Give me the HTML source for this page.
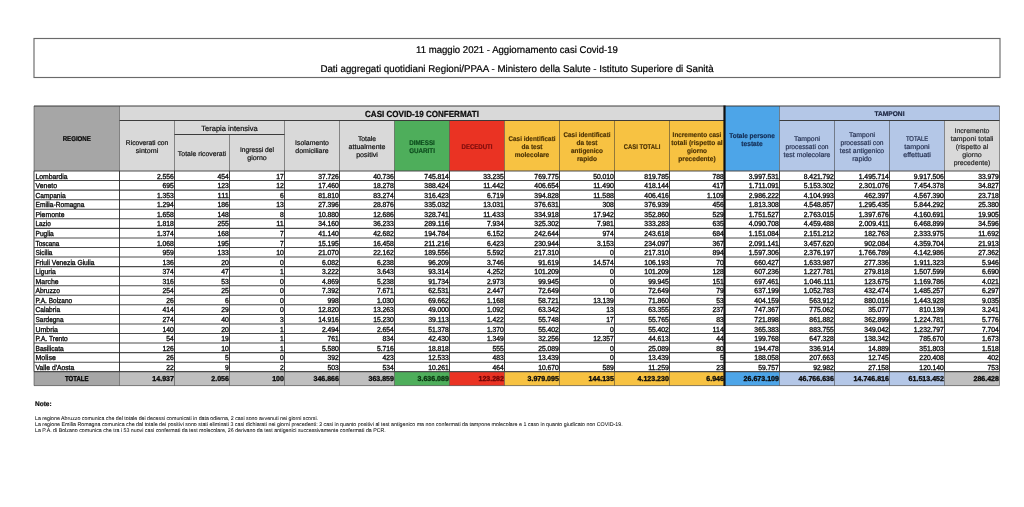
<!DOCTYPE html>
<html lang="it"><head><meta charset="utf-8"><title>11 maggio 2021 - Aggiornamento casi Covid-19</title>
<style>
html,body{margin:0;padding:0;background:#fff;}
body{width:1024px;height:507px;overflow:hidden;font-family:"Liberation Sans",sans-serif;}
svg{display:block;font-family:"Liberation Sans",sans-serif;will-change:transform;filter:blur(0.3px);}
svg text{white-space:pre;}
</style></head><body>
<svg width="1024" height="507" viewBox="0 0 1024 507" text-rendering="geometricPrecision">
<rect x="0" y="0" width="1024" height="507" fill="#ffffff"/>
<rect x="34.00" y="38.50" width="966.00" height="39.00" fill="#ffffff" stroke="#6a6a6a" stroke-width="1.15"/>
<text transform="translate(517.00 52.60) scale(0.9741 1)" font-size="9.85" text-anchor="middle" fill="#000" stroke="#000" stroke-width="0.21">11 maggio 2021 - Aggiornamento casi Covid-19</text>
<text transform="translate(517.00 71.60) scale(0.9902 1)" font-size="9.85" text-anchor="middle" fill="#000" stroke="#000" stroke-width="0.20">Dati aggregati quotidiani Regioni/PPAA - Ministero della Salute - Istituto Superiore di Sanità</text>
<rect x="34.00" y="106.00" width="85.50" height="65.00" fill="#a6a6a6" />
<rect x="119.50" y="106.00" width="605.00" height="14.50" fill="#d9d9d9" />
<rect x="119.50" y="120.50" width="275.00" height="50.50" fill="#d9d9d9" />
<rect x="394.50" y="120.50" width="55.00" height="50.50" fill="#4eae5b" />
<rect x="449.50" y="120.50" width="55.00" height="50.50" fill="#ea3323" />
<rect x="504.50" y="120.50" width="220.00" height="50.50" fill="#f7c242" />
<rect x="724.50" y="106.00" width="55.00" height="65.00" fill="#4da5e8" />
<rect x="779.50" y="106.00" width="220.00" height="14.50" fill="#b4c7e7" />
<rect x="779.50" y="120.50" width="165.00" height="50.50" fill="#b4c7e7" />
<rect x="944.50" y="120.50" width="55.00" height="50.50" fill="#d9d9d9" />
<rect x="34.00" y="371.60" width="85.50" height="14.00" fill="#a6a6a6" />
<rect x="119.50" y="371.60" width="275.00" height="14.00" fill="#bfbfbf" />
<rect x="394.50" y="371.60" width="55.00" height="14.00" fill="#4eae5b" />
<rect x="449.50" y="371.60" width="55.00" height="14.00" fill="#ea3323" />
<rect x="504.50" y="371.60" width="220.00" height="14.00" fill="#f7c242" />
<rect x="724.50" y="371.60" width="55.00" height="14.00" fill="#4da5e8" />
<rect x="779.50" y="371.60" width="165.00" height="14.00" fill="#b4c7e7" />
<rect x="944.50" y="371.60" width="55.00" height="14.00" fill="#bfbfbf" />
<line x1="34.00" y1="106.00" x2="999.50" y2="106.00" stroke="#343434" stroke-width="0.95"/>
<line x1="119.50" y1="120.50" x2="724.50" y2="120.50" stroke="#343434" stroke-width="0.95"/>
<line x1="779.50" y1="120.50" x2="999.50" y2="120.50" stroke="#343434" stroke-width="0.95"/>
<line x1="174.50" y1="134.50" x2="284.50" y2="134.50" stroke="#343434" stroke-width="0.95"/>
<line x1="34.00" y1="171.00" x2="999.50" y2="171.00" stroke="#4c4c4c" stroke-width="1.15"/>
<line x1="34.00" y1="180.56" x2="999.50" y2="180.56" stroke="#4c4c4c" stroke-width="1.05"/>
<line x1="34.00" y1="190.12" x2="999.50" y2="190.12" stroke="#4c4c4c" stroke-width="1.05"/>
<line x1="34.00" y1="199.68" x2="999.50" y2="199.68" stroke="#4c4c4c" stroke-width="1.05"/>
<line x1="34.00" y1="209.24" x2="999.50" y2="209.24" stroke="#4c4c4c" stroke-width="1.05"/>
<line x1="34.00" y1="218.80" x2="999.50" y2="218.80" stroke="#4c4c4c" stroke-width="1.05"/>
<line x1="34.00" y1="228.36" x2="999.50" y2="228.36" stroke="#4c4c4c" stroke-width="1.05"/>
<line x1="34.00" y1="237.92" x2="999.50" y2="237.92" stroke="#4c4c4c" stroke-width="1.05"/>
<line x1="34.00" y1="247.48" x2="999.50" y2="247.48" stroke="#4c4c4c" stroke-width="1.05"/>
<line x1="34.00" y1="257.04" x2="999.50" y2="257.04" stroke="#4c4c4c" stroke-width="1.05"/>
<line x1="34.00" y1="266.60" x2="999.50" y2="266.60" stroke="#4c4c4c" stroke-width="1.05"/>
<line x1="34.00" y1="276.16" x2="999.50" y2="276.16" stroke="#4c4c4c" stroke-width="1.05"/>
<line x1="34.00" y1="285.72" x2="999.50" y2="285.72" stroke="#4c4c4c" stroke-width="1.05"/>
<line x1="34.00" y1="295.28" x2="999.50" y2="295.28" stroke="#4c4c4c" stroke-width="1.05"/>
<line x1="34.00" y1="304.84" x2="999.50" y2="304.84" stroke="#4c4c4c" stroke-width="1.05"/>
<line x1="34.00" y1="314.40" x2="999.50" y2="314.40" stroke="#4c4c4c" stroke-width="1.05"/>
<line x1="34.00" y1="323.96" x2="999.50" y2="323.96" stroke="#4c4c4c" stroke-width="1.05"/>
<line x1="34.00" y1="333.52" x2="999.50" y2="333.52" stroke="#4c4c4c" stroke-width="1.05"/>
<line x1="34.00" y1="343.08" x2="999.50" y2="343.08" stroke="#4c4c4c" stroke-width="1.05"/>
<line x1="34.00" y1="352.64" x2="999.50" y2="352.64" stroke="#4c4c4c" stroke-width="1.05"/>
<line x1="34.00" y1="362.20" x2="999.50" y2="362.20" stroke="#4c4c4c" stroke-width="1.05"/>
<line x1="34.00" y1="371.60" x2="999.50" y2="371.60" stroke="#4c4c4c" stroke-width="1.05"/>
<line x1="34.00" y1="385.60" x2="999.50" y2="385.60" stroke="#343434" stroke-width="1.0" stroke-opacity="0.6"/>
<line x1="34.00" y1="106.00" x2="34.00" y2="171.00" stroke="#343434" stroke-width="0.95" stroke-opacity="0.55"/>
<line x1="34.00" y1="171.00" x2="34.00" y2="371.60" stroke="#343434" stroke-width="0.95"/>
<line x1="34.00" y1="371.60" x2="34.00" y2="385.60" stroke="#343434" stroke-width="0.95" stroke-opacity="0.55"/>
<line x1="119.50" y1="106.00" x2="119.50" y2="171.00" stroke="#343434" stroke-width="0.95" stroke-opacity="0.55"/>
<line x1="119.50" y1="171.00" x2="119.50" y2="371.60" stroke="#343434" stroke-width="0.95"/>
<line x1="119.50" y1="371.60" x2="119.50" y2="385.60" stroke="#343434" stroke-width="0.95" stroke-opacity="0.55"/>
<line x1="174.50" y1="120.50" x2="174.50" y2="171.00" stroke="#343434" stroke-width="0.95" stroke-opacity="0.55"/>
<line x1="174.50" y1="171.00" x2="174.50" y2="371.60" stroke="#343434" stroke-width="0.95"/>
<line x1="174.50" y1="371.60" x2="174.50" y2="385.60" stroke="#343434" stroke-width="0.95" stroke-opacity="0.55"/>
<line x1="229.50" y1="134.50" x2="229.50" y2="171.00" stroke="#343434" stroke-width="0.95" stroke-opacity="0.55"/>
<line x1="229.50" y1="171.00" x2="229.50" y2="371.60" stroke="#343434" stroke-width="0.95"/>
<line x1="229.50" y1="371.60" x2="229.50" y2="385.60" stroke="#343434" stroke-width="0.95" stroke-opacity="0.55"/>
<line x1="284.50" y1="120.50" x2="284.50" y2="171.00" stroke="#343434" stroke-width="0.95" stroke-opacity="0.55"/>
<line x1="284.50" y1="171.00" x2="284.50" y2="371.60" stroke="#343434" stroke-width="0.95"/>
<line x1="284.50" y1="371.60" x2="284.50" y2="385.60" stroke="#343434" stroke-width="0.95" stroke-opacity="0.55"/>
<line x1="339.50" y1="120.50" x2="339.50" y2="171.00" stroke="#343434" stroke-width="0.95" stroke-opacity="0.55"/>
<line x1="339.50" y1="171.00" x2="339.50" y2="371.60" stroke="#343434" stroke-width="0.95"/>
<line x1="339.50" y1="371.60" x2="339.50" y2="385.60" stroke="#343434" stroke-width="0.95" stroke-opacity="0.55"/>
<line x1="394.50" y1="120.50" x2="394.50" y2="171.00" stroke="#343434" stroke-width="0.95" stroke-opacity="0.55"/>
<line x1="394.50" y1="171.00" x2="394.50" y2="371.60" stroke="#343434" stroke-width="0.95"/>
<line x1="394.50" y1="371.60" x2="394.50" y2="385.60" stroke="#343434" stroke-width="0.95" stroke-opacity="0.55"/>
<line x1="449.50" y1="120.50" x2="449.50" y2="171.00" stroke="#343434" stroke-width="0.95" stroke-opacity="0.55"/>
<line x1="449.50" y1="171.00" x2="449.50" y2="371.60" stroke="#343434" stroke-width="0.95"/>
<line x1="449.50" y1="371.60" x2="449.50" y2="385.60" stroke="#343434" stroke-width="0.95" stroke-opacity="0.55"/>
<line x1="504.50" y1="120.50" x2="504.50" y2="171.00" stroke="#343434" stroke-width="0.95" stroke-opacity="0.55"/>
<line x1="504.50" y1="171.00" x2="504.50" y2="371.60" stroke="#343434" stroke-width="0.95"/>
<line x1="504.50" y1="371.60" x2="504.50" y2="385.60" stroke="#343434" stroke-width="0.95" stroke-opacity="0.55"/>
<line x1="559.50" y1="120.50" x2="559.50" y2="171.00" stroke="#343434" stroke-width="0.95" stroke-opacity="0.55"/>
<line x1="559.50" y1="171.00" x2="559.50" y2="371.60" stroke="#343434" stroke-width="0.95"/>
<line x1="559.50" y1="371.60" x2="559.50" y2="385.60" stroke="#343434" stroke-width="0.95" stroke-opacity="0.55"/>
<line x1="614.50" y1="120.50" x2="614.50" y2="171.00" stroke="#343434" stroke-width="0.95" stroke-opacity="0.55"/>
<line x1="614.50" y1="171.00" x2="614.50" y2="371.60" stroke="#343434" stroke-width="0.95"/>
<line x1="614.50" y1="371.60" x2="614.50" y2="385.60" stroke="#343434" stroke-width="0.95" stroke-opacity="0.55"/>
<line x1="669.50" y1="120.50" x2="669.50" y2="171.00" stroke="#343434" stroke-width="0.95" stroke-opacity="0.55"/>
<line x1="669.50" y1="171.00" x2="669.50" y2="371.60" stroke="#343434" stroke-width="0.95"/>
<line x1="669.50" y1="371.60" x2="669.50" y2="385.60" stroke="#343434" stroke-width="0.95" stroke-opacity="0.55"/>
<line x1="779.50" y1="106.00" x2="779.50" y2="171.00" stroke="#343434" stroke-width="0.95" stroke-opacity="0.55"/>
<line x1="779.50" y1="171.00" x2="779.50" y2="371.60" stroke="#343434" stroke-width="0.95"/>
<line x1="779.50" y1="371.60" x2="779.50" y2="385.60" stroke="#343434" stroke-width="0.95" stroke-opacity="0.55"/>
<line x1="834.50" y1="120.50" x2="834.50" y2="171.00" stroke="#343434" stroke-width="0.95" stroke-opacity="0.55"/>
<line x1="834.50" y1="171.00" x2="834.50" y2="371.60" stroke="#343434" stroke-width="0.95"/>
<line x1="834.50" y1="371.60" x2="834.50" y2="385.60" stroke="#343434" stroke-width="0.95" stroke-opacity="0.55"/>
<line x1="889.50" y1="120.50" x2="889.50" y2="171.00" stroke="#343434" stroke-width="0.95" stroke-opacity="0.55"/>
<line x1="889.50" y1="171.00" x2="889.50" y2="371.60" stroke="#343434" stroke-width="0.95"/>
<line x1="889.50" y1="371.60" x2="889.50" y2="385.60" stroke="#343434" stroke-width="0.95" stroke-opacity="0.55"/>
<line x1="944.50" y1="120.50" x2="944.50" y2="171.00" stroke="#343434" stroke-width="0.95" stroke-opacity="0.55"/>
<line x1="944.50" y1="171.00" x2="944.50" y2="371.60" stroke="#343434" stroke-width="0.95"/>
<line x1="944.50" y1="371.60" x2="944.50" y2="385.60" stroke="#343434" stroke-width="0.95" stroke-opacity="0.55"/>
<line x1="999.50" y1="106.00" x2="999.50" y2="171.00" stroke="#343434" stroke-width="0.95" stroke-opacity="0.55"/>
<line x1="999.50" y1="171.00" x2="999.50" y2="371.60" stroke="#343434" stroke-width="0.95"/>
<line x1="999.50" y1="371.60" x2="999.50" y2="385.60" stroke="#343434" stroke-width="0.95" stroke-opacity="0.55"/>
<line x1="724.50" y1="105.50" x2="724.50" y2="386.10" stroke="#111" stroke-width="2.2"/>
<text transform="translate(76.75 141.15) scale(0.8820 1)" font-size="6.94" text-anchor="middle" font-weight="bold" fill="#0a0a0a" stroke="#0a0a0a" stroke-width="0.23">REGIONE</text>
<text transform="translate(422.00 117.15) scale(0.9073 1)" font-size="8.88" text-anchor="middle" font-weight="bold" fill="#0a0a0a" stroke="#0a0a0a" stroke-width="0.22">CASI COVID-19 CONFERMATI</text>
<text transform="translate(889.50 115.75) scale(0.9604 1)" font-size="6.89" text-anchor="middle" font-weight="bold" fill="#1b2540" stroke="#1b2540" stroke-width="0.21">TAMPONI</text>
<text transform="translate(229.50 130.70) scale(0.9785 1)" font-size="7.68" text-anchor="middle" fill="#0a0a0a" stroke="#0a0a0a" stroke-width="0.18">Terapia intensiva</text>
<text transform="translate(147.00 144.99) scale(0.9722 1)" font-size="6.89" text-anchor="middle" fill="#0a0a0a" stroke="#0a0a0a" stroke-width="0.19">Ricoverati con</text>
<text transform="translate(147.00 152.94) scale(1.0299 1)" font-size="6.89" text-anchor="middle" fill="#0a0a0a" stroke="#0a0a0a" stroke-width="0.18">sintomi</text>
<text transform="translate(202.00 155.96) scale(1.0020 1)" font-size="6.89" text-anchor="middle" fill="#0a0a0a" stroke="#0a0a0a" stroke-width="0.18">Totale ricoverati</text>
<text transform="translate(257.00 151.99) scale(0.9664 1)" font-size="6.89" text-anchor="middle" fill="#0a0a0a" stroke="#0a0a0a" stroke-width="0.19">Ingressi del</text>
<text transform="translate(257.00 159.94) scale(1.0224 1)" font-size="6.89" text-anchor="middle" fill="#0a0a0a" stroke="#0a0a0a" stroke-width="0.18">giorno</text>
<text transform="translate(312.00 144.99) scale(1.0042 1)" font-size="6.89" text-anchor="middle" fill="#0a0a0a" stroke="#0a0a0a" stroke-width="0.18">Isolamento</text>
<text transform="translate(312.00 152.94) scale(1.0189 1)" font-size="6.89" text-anchor="middle" fill="#0a0a0a" stroke="#0a0a0a" stroke-width="0.18">domiciliare</text>
<text transform="translate(367.00 141.01) scale(0.9945 1)" font-size="6.89" text-anchor="middle" fill="#0a0a0a" stroke="#0a0a0a" stroke-width="0.18">Totale</text>
<text transform="translate(367.00 148.96) scale(1.0287 1)" font-size="6.89" text-anchor="middle" fill="#0a0a0a" stroke="#0a0a0a" stroke-width="0.18">attualmente</text>
<text transform="translate(367.00 156.91) scale(1.0298 1)" font-size="6.89" text-anchor="middle" fill="#0a0a0a" stroke="#0a0a0a" stroke-width="0.18">positivi</text>
<text transform="translate(422.00 144.99) scale(0.9100 1)" font-size="6.89" text-anchor="middle" font-weight="bold" fill="#0c4a1c" stroke="#0c4a1c" stroke-width="0.15">DIMESSI</text>
<text transform="translate(422.00 152.94) scale(0.9100 1)" font-size="6.89" text-anchor="middle" font-weight="bold" fill="#0c4a1c" stroke="#0c4a1c" stroke-width="0.15">GUARITI</text>
<text transform="translate(477.00 148.96) scale(0.8810 1)" font-size="6.89" text-anchor="middle" font-weight="bold" fill="#7a0c0c" stroke="#7a0c0c" stroke-width="0.16">DECEDUTI</text>
<text transform="translate(532.00 141.01) scale(0.9257 1)" font-size="6.89" text-anchor="middle" font-weight="bold" fill="#4a3104" stroke="#4a3104" stroke-width="0.15">Casi identificati</text>
<text transform="translate(532.00 148.96) scale(0.9488 1)" font-size="6.89" text-anchor="middle" font-weight="bold" fill="#4a3104" stroke="#4a3104" stroke-width="0.15">da test</text>
<text transform="translate(532.00 156.91) scale(0.9496 1)" font-size="6.89" text-anchor="middle" font-weight="bold" fill="#4a3104" stroke="#4a3104" stroke-width="0.15">molecolare</text>
<text transform="translate(587.00 137.04) scale(0.9257 1)" font-size="6.89" text-anchor="middle" font-weight="bold" fill="#4a3104" stroke="#4a3104" stroke-width="0.15">Casi identificati</text>
<text transform="translate(587.00 144.99) scale(0.9488 1)" font-size="6.89" text-anchor="middle" font-weight="bold" fill="#4a3104" stroke="#4a3104" stroke-width="0.15">da test</text>
<text transform="translate(587.00 152.94) scale(0.9311 1)" font-size="6.89" text-anchor="middle" font-weight="bold" fill="#4a3104" stroke="#4a3104" stroke-width="0.15">antigenico</text>
<text transform="translate(587.00 160.89) scale(0.9495 1)" font-size="6.89" text-anchor="middle" font-weight="bold" fill="#4a3104" stroke="#4a3104" stroke-width="0.15">rapido</text>
<text transform="translate(642.00 148.96) scale(0.8626 1)" font-size="6.89" text-anchor="middle" font-weight="bold" fill="#4a3104" stroke="#4a3104" stroke-width="0.16">CASI TOTALI</text>
<text transform="translate(697.00 137.04) scale(0.9321 1)" font-size="6.89" text-anchor="middle" font-weight="bold" fill="#4a3104" stroke="#4a3104" stroke-width="0.15">Incremento casi</text>
<text transform="translate(697.00 144.99) scale(0.9613 1)" font-size="6.89" text-anchor="middle" font-weight="bold" fill="#4a3104" stroke="#4a3104" stroke-width="0.15">totali (rispetto al</text>
<text transform="translate(697.00 152.94) scale(0.9339 1)" font-size="6.89" text-anchor="middle" font-weight="bold" fill="#4a3104" stroke="#4a3104" stroke-width="0.15">giorno</text>
<text transform="translate(697.00 160.89) scale(0.9580 1)" font-size="6.89" text-anchor="middle" font-weight="bold" fill="#4a3104" stroke="#4a3104" stroke-width="0.15">precedente)</text>
<text transform="translate(752.00 137.74) scale(0.9387 1)" font-size="6.89" text-anchor="middle" font-weight="bold" fill="#12294f" stroke="#12294f" stroke-width="0.15">Totale persone</text>
<text transform="translate(752.00 145.69) scale(0.9674 1)" font-size="6.89" text-anchor="middle" font-weight="bold" fill="#12294f" stroke="#12294f" stroke-width="0.14">testate</text>
<text transform="translate(807.00 141.01) scale(0.9995 1)" font-size="6.89" text-anchor="middle" fill="#1f2a4a" stroke="#1f2a4a" stroke-width="0.18">Tamponi</text>
<text transform="translate(807.00 148.96) scale(0.9738 1)" font-size="6.89" text-anchor="middle" fill="#1f2a4a" stroke="#1f2a4a" stroke-width="0.18">processati con</text>
<text transform="translate(807.00 156.91) scale(1.0043 1)" font-size="6.89" text-anchor="middle" fill="#1f2a4a" stroke="#1f2a4a" stroke-width="0.18">test molecolare</text>
<text transform="translate(862.00 137.04) scale(0.9995 1)" font-size="6.89" text-anchor="middle" fill="#1f2a4a" stroke="#1f2a4a" stroke-width="0.18">Tamponi</text>
<text transform="translate(862.00 144.99) scale(0.9738 1)" font-size="6.89" text-anchor="middle" fill="#1f2a4a" stroke="#1f2a4a" stroke-width="0.18">processati con</text>
<text transform="translate(862.00 152.94) scale(1.0011 1)" font-size="6.89" text-anchor="middle" fill="#1f2a4a" stroke="#1f2a4a" stroke-width="0.18">test antigenico</text>
<text transform="translate(862.00 160.89) scale(1.0169 1)" font-size="6.89" text-anchor="middle" fill="#1f2a4a" stroke="#1f2a4a" stroke-width="0.18">rapido</text>
<text transform="translate(917.00 141.01) scale(0.8514 1)" font-size="6.89" text-anchor="middle" fill="#1f2a4a" stroke="#1f2a4a" stroke-width="0.21">TOTALE</text>
<text transform="translate(917.00 148.96) scale(1.0357 1)" font-size="6.89" text-anchor="middle" fill="#1f2a4a" stroke="#1f2a4a" stroke-width="0.18">tamponi</text>
<text transform="translate(917.00 156.91) scale(1.0551 1)" font-size="6.89" text-anchor="middle" fill="#1f2a4a" stroke="#1f2a4a" stroke-width="0.18">effettuati</text>
<text transform="translate(972.00 133.06) scale(1.0153 1)" font-size="6.89" text-anchor="middle" fill="#222" stroke="#222" stroke-width="0.18">Incremento</text>
<text transform="translate(972.00 141.01) scale(1.0447 1)" font-size="6.89" text-anchor="middle" fill="#222" stroke="#222" stroke-width="0.18">tamponi totali</text>
<text transform="translate(972.00 148.96) scale(1.0135 1)" font-size="6.89" text-anchor="middle" fill="#222" stroke="#222" stroke-width="0.18">(rispetto al</text>
<text transform="translate(972.00 156.91) scale(1.0224 1)" font-size="6.89" text-anchor="middle" fill="#222" stroke="#222" stroke-width="0.18">giorno</text>
<text transform="translate(972.00 164.86) scale(1.0013 1)" font-size="6.89" text-anchor="middle" fill="#222" stroke="#222" stroke-width="0.18">precedente)</text>
<text transform="translate(35.50 178.60) scale(0.9425 1)" font-size="7.23" text-anchor="start" fill="#0a0a0a" stroke="#0a0a0a" stroke-width="0.32">Lombardia</text>
<text transform="translate(173.90 178.60) scale(0.9297 1)" font-size="7.30" text-anchor="end" fill="#0a0a0a" stroke="#0a0a0a" stroke-width="0.32">2.556</text>
<text transform="translate(228.90 178.60) scale(0.9300 1)" font-size="7.30" text-anchor="end" fill="#0a0a0a" stroke="#0a0a0a" stroke-width="0.32">454</text>
<text transform="translate(283.90 178.60) scale(0.9300 1)" font-size="7.30" text-anchor="end" fill="#0a0a0a" stroke="#0a0a0a" stroke-width="0.32">17</text>
<text transform="translate(338.90 178.60) scale(0.9297 1)" font-size="7.30" text-anchor="end" fill="#0a0a0a" stroke="#0a0a0a" stroke-width="0.32">37.726</text>
<text transform="translate(393.90 178.60) scale(0.9297 1)" font-size="7.30" text-anchor="end" fill="#0a0a0a" stroke="#0a0a0a" stroke-width="0.32">40.736</text>
<text transform="translate(448.90 178.60) scale(0.9297 1)" font-size="7.30" text-anchor="end" fill="#0a0a0a" stroke="#0a0a0a" stroke-width="0.32">745.814</text>
<text transform="translate(503.90 178.60) scale(0.9297 1)" font-size="7.30" text-anchor="end" fill="#0a0a0a" stroke="#0a0a0a" stroke-width="0.32">33.235</text>
<text transform="translate(558.90 178.60) scale(0.9297 1)" font-size="7.30" text-anchor="end" fill="#0a0a0a" stroke="#0a0a0a" stroke-width="0.32">769.775</text>
<text transform="translate(613.90 178.60) scale(0.9297 1)" font-size="7.30" text-anchor="end" fill="#0a0a0a" stroke="#0a0a0a" stroke-width="0.32">50.010</text>
<text transform="translate(668.90 178.60) scale(0.9297 1)" font-size="7.30" text-anchor="end" fill="#0a0a0a" stroke="#0a0a0a" stroke-width="0.32">819.785</text>
<text transform="translate(723.90 178.60) scale(0.9300 1)" font-size="7.30" text-anchor="end" fill="#0a0a0a" stroke="#0a0a0a" stroke-width="0.32">788</text>
<text transform="translate(778.90 178.60) scale(0.9296 1)" font-size="7.30" text-anchor="end" fill="#0a0a0a" stroke="#0a0a0a" stroke-width="0.32">3.997.531</text>
<text transform="translate(833.90 178.60) scale(0.9296 1)" font-size="7.30" text-anchor="end" fill="#0a0a0a" stroke="#0a0a0a" stroke-width="0.32">8.421.792</text>
<text transform="translate(888.90 178.60) scale(0.9296 1)" font-size="7.30" text-anchor="end" fill="#0a0a0a" stroke="#0a0a0a" stroke-width="0.32">1.495.714</text>
<text transform="translate(943.90 178.60) scale(0.9296 1)" font-size="7.30" text-anchor="end" fill="#0a0a0a" stroke="#0a0a0a" stroke-width="0.32">9.917.506</text>
<text transform="translate(998.90 178.60) scale(0.9297 1)" font-size="7.30" text-anchor="end" fill="#0a0a0a" stroke="#0a0a0a" stroke-width="0.32">33.979</text>
<text transform="translate(35.50 188.16) scale(0.9551 1)" font-size="7.23" text-anchor="start" fill="#0a0a0a" stroke="#0a0a0a" stroke-width="0.31">Veneto</text>
<text transform="translate(173.90 188.16) scale(0.9300 1)" font-size="7.30" text-anchor="end" fill="#0a0a0a" stroke="#0a0a0a" stroke-width="0.32">695</text>
<text transform="translate(228.90 188.16) scale(0.9300 1)" font-size="7.30" text-anchor="end" fill="#0a0a0a" stroke="#0a0a0a" stroke-width="0.32">123</text>
<text transform="translate(283.90 188.16) scale(0.9300 1)" font-size="7.30" text-anchor="end" fill="#0a0a0a" stroke="#0a0a0a" stroke-width="0.32">12</text>
<text transform="translate(338.90 188.16) scale(0.9297 1)" font-size="7.30" text-anchor="end" fill="#0a0a0a" stroke="#0a0a0a" stroke-width="0.32">17.460</text>
<text transform="translate(393.90 188.16) scale(0.9297 1)" font-size="7.30" text-anchor="end" fill="#0a0a0a" stroke="#0a0a0a" stroke-width="0.32">18.278</text>
<text transform="translate(448.90 188.16) scale(0.9297 1)" font-size="7.30" text-anchor="end" fill="#0a0a0a" stroke="#0a0a0a" stroke-width="0.32">388.424</text>
<text transform="translate(503.90 188.16) scale(0.9528 1)" font-size="7.30" text-anchor="end" fill="#0a0a0a" stroke="#0a0a0a" stroke-width="0.31">11.442</text>
<text transform="translate(558.90 188.16) scale(0.9297 1)" font-size="7.30" text-anchor="end" fill="#0a0a0a" stroke="#0a0a0a" stroke-width="0.32">406.654</text>
<text transform="translate(613.90 188.16) scale(0.9528 1)" font-size="7.30" text-anchor="end" fill="#0a0a0a" stroke="#0a0a0a" stroke-width="0.31">11.490</text>
<text transform="translate(668.90 188.16) scale(0.9297 1)" font-size="7.30" text-anchor="end" fill="#0a0a0a" stroke="#0a0a0a" stroke-width="0.32">418.144</text>
<text transform="translate(723.90 188.16) scale(0.9300 1)" font-size="7.30" text-anchor="end" fill="#0a0a0a" stroke="#0a0a0a" stroke-width="0.32">417</text>
<text transform="translate(778.90 188.16) scale(0.9454 1)" font-size="7.30" text-anchor="end" fill="#0a0a0a" stroke="#0a0a0a" stroke-width="0.32">1.711.091</text>
<text transform="translate(833.90 188.16) scale(0.9296 1)" font-size="7.30" text-anchor="end" fill="#0a0a0a" stroke="#0a0a0a" stroke-width="0.32">5.153.302</text>
<text transform="translate(888.90 188.16) scale(0.9296 1)" font-size="7.30" text-anchor="end" fill="#0a0a0a" stroke="#0a0a0a" stroke-width="0.32">2.301.076</text>
<text transform="translate(943.90 188.16) scale(0.9296 1)" font-size="7.30" text-anchor="end" fill="#0a0a0a" stroke="#0a0a0a" stroke-width="0.32">7.454.378</text>
<text transform="translate(998.90 188.16) scale(0.9297 1)" font-size="7.30" text-anchor="end" fill="#0a0a0a" stroke="#0a0a0a" stroke-width="0.32">34.827</text>
<text transform="translate(35.50 197.72) scale(0.9158 1)" font-size="7.23" text-anchor="start" fill="#0a0a0a" stroke="#0a0a0a" stroke-width="0.33">Campania</text>
<text transform="translate(173.90 197.72) scale(0.9297 1)" font-size="7.30" text-anchor="end" fill="#0a0a0a" stroke="#0a0a0a" stroke-width="0.32">1.353</text>
<text transform="translate(228.90 197.72) scale(1.0208 1)" font-size="7.30" text-anchor="end" fill="#0a0a0a" stroke="#0a0a0a" stroke-width="0.30">111</text>
<text transform="translate(283.90 197.72) scale(0.9300 1)" font-size="7.30" text-anchor="end" fill="#0a0a0a" stroke="#0a0a0a" stroke-width="0.32">6</text>
<text transform="translate(338.90 197.72) scale(0.9297 1)" font-size="7.30" text-anchor="end" fill="#0a0a0a" stroke="#0a0a0a" stroke-width="0.32">81.810</text>
<text transform="translate(393.90 197.72) scale(0.9297 1)" font-size="7.30" text-anchor="end" fill="#0a0a0a" stroke="#0a0a0a" stroke-width="0.32">83.274</text>
<text transform="translate(448.90 197.72) scale(0.9297 1)" font-size="7.30" text-anchor="end" fill="#0a0a0a" stroke="#0a0a0a" stroke-width="0.32">316.423</text>
<text transform="translate(503.90 197.72) scale(0.9297 1)" font-size="7.30" text-anchor="end" fill="#0a0a0a" stroke="#0a0a0a" stroke-width="0.32">6.719</text>
<text transform="translate(558.90 197.72) scale(0.9297 1)" font-size="7.30" text-anchor="end" fill="#0a0a0a" stroke="#0a0a0a" stroke-width="0.32">394.828</text>
<text transform="translate(613.90 197.72) scale(0.9528 1)" font-size="7.30" text-anchor="end" fill="#0a0a0a" stroke="#0a0a0a" stroke-width="0.31">11.588</text>
<text transform="translate(668.90 197.72) scale(0.9297 1)" font-size="7.30" text-anchor="end" fill="#0a0a0a" stroke="#0a0a0a" stroke-width="0.32">406.416</text>
<text transform="translate(723.90 197.72) scale(0.9297 1)" font-size="7.30" text-anchor="end" fill="#0a0a0a" stroke="#0a0a0a" stroke-width="0.32">1.109</text>
<text transform="translate(778.90 197.72) scale(0.9296 1)" font-size="7.30" text-anchor="end" fill="#0a0a0a" stroke="#0a0a0a" stroke-width="0.32">2.986.222</text>
<text transform="translate(833.90 197.72) scale(0.9296 1)" font-size="7.30" text-anchor="end" fill="#0a0a0a" stroke="#0a0a0a" stroke-width="0.32">4.104.993</text>
<text transform="translate(888.90 197.72) scale(0.9297 1)" font-size="7.30" text-anchor="end" fill="#0a0a0a" stroke="#0a0a0a" stroke-width="0.32">462.397</text>
<text transform="translate(943.90 197.72) scale(0.9296 1)" font-size="7.30" text-anchor="end" fill="#0a0a0a" stroke="#0a0a0a" stroke-width="0.32">4.567.390</text>
<text transform="translate(998.90 197.72) scale(0.9297 1)" font-size="7.30" text-anchor="end" fill="#0a0a0a" stroke="#0a0a0a" stroke-width="0.32">23.718</text>
<text transform="translate(35.50 207.28) scale(0.9154 1)" font-size="7.23" text-anchor="start" fill="#0a0a0a" stroke="#0a0a0a" stroke-width="0.33">Emilia-Romagna</text>
<text transform="translate(173.90 207.28) scale(0.9297 1)" font-size="7.30" text-anchor="end" fill="#0a0a0a" stroke="#0a0a0a" stroke-width="0.32">1.294</text>
<text transform="translate(228.90 207.28) scale(0.9300 1)" font-size="7.30" text-anchor="end" fill="#0a0a0a" stroke="#0a0a0a" stroke-width="0.32">186</text>
<text transform="translate(283.90 207.28) scale(0.9300 1)" font-size="7.30" text-anchor="end" fill="#0a0a0a" stroke="#0a0a0a" stroke-width="0.32">13</text>
<text transform="translate(338.90 207.28) scale(0.9297 1)" font-size="7.30" text-anchor="end" fill="#0a0a0a" stroke="#0a0a0a" stroke-width="0.32">27.396</text>
<text transform="translate(393.90 207.28) scale(0.9297 1)" font-size="7.30" text-anchor="end" fill="#0a0a0a" stroke="#0a0a0a" stroke-width="0.32">28.876</text>
<text transform="translate(448.90 207.28) scale(0.9297 1)" font-size="7.30" text-anchor="end" fill="#0a0a0a" stroke="#0a0a0a" stroke-width="0.32">335.032</text>
<text transform="translate(503.90 207.28) scale(0.9297 1)" font-size="7.30" text-anchor="end" fill="#0a0a0a" stroke="#0a0a0a" stroke-width="0.32">13.031</text>
<text transform="translate(558.90 207.28) scale(0.9297 1)" font-size="7.30" text-anchor="end" fill="#0a0a0a" stroke="#0a0a0a" stroke-width="0.32">376.631</text>
<text transform="translate(613.90 207.28) scale(0.9300 1)" font-size="7.30" text-anchor="end" fill="#0a0a0a" stroke="#0a0a0a" stroke-width="0.32">308</text>
<text transform="translate(668.90 207.28) scale(0.9297 1)" font-size="7.30" text-anchor="end" fill="#0a0a0a" stroke="#0a0a0a" stroke-width="0.32">376.939</text>
<text transform="translate(723.90 207.28) scale(0.9300 1)" font-size="7.30" text-anchor="end" fill="#0a0a0a" stroke="#0a0a0a" stroke-width="0.32">456</text>
<text transform="translate(778.90 207.28) scale(0.9296 1)" font-size="7.30" text-anchor="end" fill="#0a0a0a" stroke="#0a0a0a" stroke-width="0.32">1.813.308</text>
<text transform="translate(833.90 207.28) scale(0.9296 1)" font-size="7.30" text-anchor="end" fill="#0a0a0a" stroke="#0a0a0a" stroke-width="0.32">4.548.857</text>
<text transform="translate(888.90 207.28) scale(0.9296 1)" font-size="7.30" text-anchor="end" fill="#0a0a0a" stroke="#0a0a0a" stroke-width="0.32">1.295.435</text>
<text transform="translate(943.90 207.28) scale(0.9296 1)" font-size="7.30" text-anchor="end" fill="#0a0a0a" stroke="#0a0a0a" stroke-width="0.32">5.844.292</text>
<text transform="translate(998.90 207.28) scale(0.9297 1)" font-size="7.30" text-anchor="end" fill="#0a0a0a" stroke="#0a0a0a" stroke-width="0.32">25.380</text>
<text transform="translate(35.50 216.84) scale(0.9536 1)" font-size="7.23" text-anchor="start" fill="#0a0a0a" stroke="#0a0a0a" stroke-width="0.31">Piemonte</text>
<text transform="translate(173.90 216.84) scale(0.9297 1)" font-size="7.30" text-anchor="end" fill="#0a0a0a" stroke="#0a0a0a" stroke-width="0.32">1.658</text>
<text transform="translate(228.90 216.84) scale(0.9300 1)" font-size="7.30" text-anchor="end" fill="#0a0a0a" stroke="#0a0a0a" stroke-width="0.32">148</text>
<text transform="translate(283.90 216.84) scale(0.9300 1)" font-size="7.30" text-anchor="end" fill="#0a0a0a" stroke="#0a0a0a" stroke-width="0.32">8</text>
<text transform="translate(338.90 216.84) scale(0.9297 1)" font-size="7.30" text-anchor="end" fill="#0a0a0a" stroke="#0a0a0a" stroke-width="0.32">10.880</text>
<text transform="translate(393.90 216.84) scale(0.9297 1)" font-size="7.30" text-anchor="end" fill="#0a0a0a" stroke="#0a0a0a" stroke-width="0.32">12.686</text>
<text transform="translate(448.90 216.84) scale(0.9297 1)" font-size="7.30" text-anchor="end" fill="#0a0a0a" stroke="#0a0a0a" stroke-width="0.32">328.741</text>
<text transform="translate(503.90 216.84) scale(0.9528 1)" font-size="7.30" text-anchor="end" fill="#0a0a0a" stroke="#0a0a0a" stroke-width="0.31">11.433</text>
<text transform="translate(558.90 216.84) scale(0.9297 1)" font-size="7.30" text-anchor="end" fill="#0a0a0a" stroke="#0a0a0a" stroke-width="0.32">334.918</text>
<text transform="translate(613.90 216.84) scale(0.9297 1)" font-size="7.30" text-anchor="end" fill="#0a0a0a" stroke="#0a0a0a" stroke-width="0.32">17.942</text>
<text transform="translate(668.90 216.84) scale(0.9297 1)" font-size="7.30" text-anchor="end" fill="#0a0a0a" stroke="#0a0a0a" stroke-width="0.32">352.860</text>
<text transform="translate(723.90 216.84) scale(0.9300 1)" font-size="7.30" text-anchor="end" fill="#0a0a0a" stroke="#0a0a0a" stroke-width="0.32">529</text>
<text transform="translate(778.90 216.84) scale(0.9296 1)" font-size="7.30" text-anchor="end" fill="#0a0a0a" stroke="#0a0a0a" stroke-width="0.32">1.751.527</text>
<text transform="translate(833.90 216.84) scale(0.9296 1)" font-size="7.30" text-anchor="end" fill="#0a0a0a" stroke="#0a0a0a" stroke-width="0.32">2.763.015</text>
<text transform="translate(888.90 216.84) scale(0.9296 1)" font-size="7.30" text-anchor="end" fill="#0a0a0a" stroke="#0a0a0a" stroke-width="0.32">1.397.676</text>
<text transform="translate(943.90 216.84) scale(0.9296 1)" font-size="7.30" text-anchor="end" fill="#0a0a0a" stroke="#0a0a0a" stroke-width="0.32">4.160.691</text>
<text transform="translate(998.90 216.84) scale(0.9297 1)" font-size="7.30" text-anchor="end" fill="#0a0a0a" stroke="#0a0a0a" stroke-width="0.32">19.905</text>
<text transform="translate(35.50 226.40) scale(0.8845 1)" font-size="7.23" text-anchor="start" fill="#0a0a0a" stroke="#0a0a0a" stroke-width="0.34">Lazio</text>
<text transform="translate(173.90 226.40) scale(0.9297 1)" font-size="7.30" text-anchor="end" fill="#0a0a0a" stroke="#0a0a0a" stroke-width="0.32">1.818</text>
<text transform="translate(228.90 226.40) scale(0.9300 1)" font-size="7.30" text-anchor="end" fill="#0a0a0a" stroke="#0a0a0a" stroke-width="0.32">255</text>
<text transform="translate(283.90 226.40) scale(0.9964 1)" font-size="7.30" text-anchor="end" fill="#0a0a0a" stroke="#0a0a0a" stroke-width="0.30">11</text>
<text transform="translate(338.90 226.40) scale(0.9297 1)" font-size="7.30" text-anchor="end" fill="#0a0a0a" stroke="#0a0a0a" stroke-width="0.32">34.160</text>
<text transform="translate(393.90 226.40) scale(0.9297 1)" font-size="7.30" text-anchor="end" fill="#0a0a0a" stroke="#0a0a0a" stroke-width="0.32">36.233</text>
<text transform="translate(448.90 226.40) scale(0.9492 1)" font-size="7.30" text-anchor="end" fill="#0a0a0a" stroke="#0a0a0a" stroke-width="0.32">289.116</text>
<text transform="translate(503.90 226.40) scale(0.9297 1)" font-size="7.30" text-anchor="end" fill="#0a0a0a" stroke="#0a0a0a" stroke-width="0.32">7.934</text>
<text transform="translate(558.90 226.40) scale(0.9297 1)" font-size="7.30" text-anchor="end" fill="#0a0a0a" stroke="#0a0a0a" stroke-width="0.32">325.302</text>
<text transform="translate(613.90 226.40) scale(0.9297 1)" font-size="7.30" text-anchor="end" fill="#0a0a0a" stroke="#0a0a0a" stroke-width="0.32">7.981</text>
<text transform="translate(668.90 226.40) scale(0.9297 1)" font-size="7.30" text-anchor="end" fill="#0a0a0a" stroke="#0a0a0a" stroke-width="0.32">333.283</text>
<text transform="translate(723.90 226.40) scale(0.9300 1)" font-size="7.30" text-anchor="end" fill="#0a0a0a" stroke="#0a0a0a" stroke-width="0.32">635</text>
<text transform="translate(778.90 226.40) scale(0.9296 1)" font-size="7.30" text-anchor="end" fill="#0a0a0a" stroke="#0a0a0a" stroke-width="0.32">4.090.708</text>
<text transform="translate(833.90 226.40) scale(0.9296 1)" font-size="7.30" text-anchor="end" fill="#0a0a0a" stroke="#0a0a0a" stroke-width="0.32">4.459.488</text>
<text transform="translate(888.90 226.40) scale(0.9454 1)" font-size="7.30" text-anchor="end" fill="#0a0a0a" stroke="#0a0a0a" stroke-width="0.32">2.009.411</text>
<text transform="translate(943.90 226.40) scale(0.9296 1)" font-size="7.30" text-anchor="end" fill="#0a0a0a" stroke="#0a0a0a" stroke-width="0.32">6.468.899</text>
<text transform="translate(998.90 226.40) scale(0.9297 1)" font-size="7.30" text-anchor="end" fill="#0a0a0a" stroke="#0a0a0a" stroke-width="0.32">34.596</text>
<text transform="translate(35.50 235.96) scale(0.9089 1)" font-size="7.23" text-anchor="start" fill="#0a0a0a" stroke="#0a0a0a" stroke-width="0.33">Puglia</text>
<text transform="translate(173.90 235.96) scale(0.9297 1)" font-size="7.30" text-anchor="end" fill="#0a0a0a" stroke="#0a0a0a" stroke-width="0.32">1.374</text>
<text transform="translate(228.90 235.96) scale(0.9300 1)" font-size="7.30" text-anchor="end" fill="#0a0a0a" stroke="#0a0a0a" stroke-width="0.32">168</text>
<text transform="translate(283.90 235.96) scale(0.9300 1)" font-size="7.30" text-anchor="end" fill="#0a0a0a" stroke="#0a0a0a" stroke-width="0.32">7</text>
<text transform="translate(338.90 235.96) scale(0.9297 1)" font-size="7.30" text-anchor="end" fill="#0a0a0a" stroke="#0a0a0a" stroke-width="0.32">41.140</text>
<text transform="translate(393.90 235.96) scale(0.9297 1)" font-size="7.30" text-anchor="end" fill="#0a0a0a" stroke="#0a0a0a" stroke-width="0.32">42.682</text>
<text transform="translate(448.90 235.96) scale(0.9297 1)" font-size="7.30" text-anchor="end" fill="#0a0a0a" stroke="#0a0a0a" stroke-width="0.32">194.784</text>
<text transform="translate(503.90 235.96) scale(0.9297 1)" font-size="7.30" text-anchor="end" fill="#0a0a0a" stroke="#0a0a0a" stroke-width="0.32">6.152</text>
<text transform="translate(558.90 235.96) scale(0.9297 1)" font-size="7.30" text-anchor="end" fill="#0a0a0a" stroke="#0a0a0a" stroke-width="0.32">242.644</text>
<text transform="translate(613.90 235.96) scale(0.9300 1)" font-size="7.30" text-anchor="end" fill="#0a0a0a" stroke="#0a0a0a" stroke-width="0.32">974</text>
<text transform="translate(668.90 235.96) scale(0.9297 1)" font-size="7.30" text-anchor="end" fill="#0a0a0a" stroke="#0a0a0a" stroke-width="0.32">243.618</text>
<text transform="translate(723.90 235.96) scale(0.9300 1)" font-size="7.30" text-anchor="end" fill="#0a0a0a" stroke="#0a0a0a" stroke-width="0.32">684</text>
<text transform="translate(778.90 235.96) scale(0.9296 1)" font-size="7.30" text-anchor="end" fill="#0a0a0a" stroke="#0a0a0a" stroke-width="0.32">1.151.084</text>
<text transform="translate(833.90 235.96) scale(0.9296 1)" font-size="7.30" text-anchor="end" fill="#0a0a0a" stroke="#0a0a0a" stroke-width="0.32">2.151.212</text>
<text transform="translate(888.90 235.96) scale(0.9297 1)" font-size="7.30" text-anchor="end" fill="#0a0a0a" stroke="#0a0a0a" stroke-width="0.32">182.763</text>
<text transform="translate(943.90 235.96) scale(0.9296 1)" font-size="7.30" text-anchor="end" fill="#0a0a0a" stroke="#0a0a0a" stroke-width="0.32">2.333.975</text>
<text transform="translate(998.90 235.96) scale(0.9528 1)" font-size="7.30" text-anchor="end" fill="#0a0a0a" stroke="#0a0a0a" stroke-width="0.31">11.692</text>
<text transform="translate(35.50 245.52) scale(0.8898 1)" font-size="7.23" text-anchor="start" fill="#0a0a0a" stroke="#0a0a0a" stroke-width="0.34">Toscana</text>
<text transform="translate(173.90 245.52) scale(0.9297 1)" font-size="7.30" text-anchor="end" fill="#0a0a0a" stroke="#0a0a0a" stroke-width="0.32">1.068</text>
<text transform="translate(228.90 245.52) scale(0.9300 1)" font-size="7.30" text-anchor="end" fill="#0a0a0a" stroke="#0a0a0a" stroke-width="0.32">195</text>
<text transform="translate(283.90 245.52) scale(0.9300 1)" font-size="7.30" text-anchor="end" fill="#0a0a0a" stroke="#0a0a0a" stroke-width="0.32">7</text>
<text transform="translate(338.90 245.52) scale(0.9297 1)" font-size="7.30" text-anchor="end" fill="#0a0a0a" stroke="#0a0a0a" stroke-width="0.32">15.195</text>
<text transform="translate(393.90 245.52) scale(0.9297 1)" font-size="7.30" text-anchor="end" fill="#0a0a0a" stroke="#0a0a0a" stroke-width="0.32">16.458</text>
<text transform="translate(448.90 245.52) scale(0.9492 1)" font-size="7.30" text-anchor="end" fill="#0a0a0a" stroke="#0a0a0a" stroke-width="0.32">211.216</text>
<text transform="translate(503.90 245.52) scale(0.9297 1)" font-size="7.30" text-anchor="end" fill="#0a0a0a" stroke="#0a0a0a" stroke-width="0.32">6.423</text>
<text transform="translate(558.90 245.52) scale(0.9297 1)" font-size="7.30" text-anchor="end" fill="#0a0a0a" stroke="#0a0a0a" stroke-width="0.32">230.944</text>
<text transform="translate(613.90 245.52) scale(0.9297 1)" font-size="7.30" text-anchor="end" fill="#0a0a0a" stroke="#0a0a0a" stroke-width="0.32">3.153</text>
<text transform="translate(668.90 245.52) scale(0.9297 1)" font-size="7.30" text-anchor="end" fill="#0a0a0a" stroke="#0a0a0a" stroke-width="0.32">234.097</text>
<text transform="translate(723.90 245.52) scale(0.9300 1)" font-size="7.30" text-anchor="end" fill="#0a0a0a" stroke="#0a0a0a" stroke-width="0.32">367</text>
<text transform="translate(778.90 245.52) scale(0.9296 1)" font-size="7.30" text-anchor="end" fill="#0a0a0a" stroke="#0a0a0a" stroke-width="0.32">2.091.141</text>
<text transform="translate(833.90 245.52) scale(0.9296 1)" font-size="7.30" text-anchor="end" fill="#0a0a0a" stroke="#0a0a0a" stroke-width="0.32">3.457.620</text>
<text transform="translate(888.90 245.52) scale(0.9297 1)" font-size="7.30" text-anchor="end" fill="#0a0a0a" stroke="#0a0a0a" stroke-width="0.32">902.084</text>
<text transform="translate(943.90 245.52) scale(0.9296 1)" font-size="7.30" text-anchor="end" fill="#0a0a0a" stroke="#0a0a0a" stroke-width="0.32">4.359.704</text>
<text transform="translate(998.90 245.52) scale(0.9297 1)" font-size="7.30" text-anchor="end" fill="#0a0a0a" stroke="#0a0a0a" stroke-width="0.32">21.913</text>
<text transform="translate(35.50 255.08) scale(0.8997 1)" font-size="7.23" text-anchor="start" fill="#0a0a0a" stroke="#0a0a0a" stroke-width="0.33">Sicilia</text>
<text transform="translate(173.90 255.08) scale(0.9300 1)" font-size="7.30" text-anchor="end" fill="#0a0a0a" stroke="#0a0a0a" stroke-width="0.32">959</text>
<text transform="translate(228.90 255.08) scale(0.9300 1)" font-size="7.30" text-anchor="end" fill="#0a0a0a" stroke="#0a0a0a" stroke-width="0.32">133</text>
<text transform="translate(283.90 255.08) scale(0.9300 1)" font-size="7.30" text-anchor="end" fill="#0a0a0a" stroke="#0a0a0a" stroke-width="0.32">10</text>
<text transform="translate(338.90 255.08) scale(0.9297 1)" font-size="7.30" text-anchor="end" fill="#0a0a0a" stroke="#0a0a0a" stroke-width="0.32">21.070</text>
<text transform="translate(393.90 255.08) scale(0.9297 1)" font-size="7.30" text-anchor="end" fill="#0a0a0a" stroke="#0a0a0a" stroke-width="0.32">22.162</text>
<text transform="translate(448.90 255.08) scale(0.9297 1)" font-size="7.30" text-anchor="end" fill="#0a0a0a" stroke="#0a0a0a" stroke-width="0.32">189.556</text>
<text transform="translate(503.90 255.08) scale(0.9297 1)" font-size="7.30" text-anchor="end" fill="#0a0a0a" stroke="#0a0a0a" stroke-width="0.32">5.592</text>
<text transform="translate(558.90 255.08) scale(0.9297 1)" font-size="7.30" text-anchor="end" fill="#0a0a0a" stroke="#0a0a0a" stroke-width="0.32">217.310</text>
<text transform="translate(613.90 255.08) scale(0.9300 1)" font-size="7.30" text-anchor="end" fill="#0a0a0a" stroke="#0a0a0a" stroke-width="0.32">0</text>
<text transform="translate(668.90 255.08) scale(0.9297 1)" font-size="7.30" text-anchor="end" fill="#0a0a0a" stroke="#0a0a0a" stroke-width="0.32">217.310</text>
<text transform="translate(723.90 255.08) scale(0.9300 1)" font-size="7.30" text-anchor="end" fill="#0a0a0a" stroke="#0a0a0a" stroke-width="0.32">894</text>
<text transform="translate(778.90 255.08) scale(0.9296 1)" font-size="7.30" text-anchor="end" fill="#0a0a0a" stroke="#0a0a0a" stroke-width="0.32">1.597.306</text>
<text transform="translate(833.90 255.08) scale(0.9296 1)" font-size="7.30" text-anchor="end" fill="#0a0a0a" stroke="#0a0a0a" stroke-width="0.32">2.376.197</text>
<text transform="translate(888.90 255.08) scale(0.9296 1)" font-size="7.30" text-anchor="end" fill="#0a0a0a" stroke="#0a0a0a" stroke-width="0.32">1.766.789</text>
<text transform="translate(943.90 255.08) scale(0.9296 1)" font-size="7.30" text-anchor="end" fill="#0a0a0a" stroke="#0a0a0a" stroke-width="0.32">4.142.986</text>
<text transform="translate(998.90 255.08) scale(0.9297 1)" font-size="7.30" text-anchor="end" fill="#0a0a0a" stroke="#0a0a0a" stroke-width="0.32">27.362</text>
<text transform="translate(35.50 264.64) scale(0.9250 1)" font-size="7.23" text-anchor="start" fill="#0a0a0a" stroke="#0a0a0a" stroke-width="0.32">Friuli Venezia Giulia</text>
<text transform="translate(173.90 264.64) scale(0.9300 1)" font-size="7.30" text-anchor="end" fill="#0a0a0a" stroke="#0a0a0a" stroke-width="0.32">136</text>
<text transform="translate(228.90 264.64) scale(0.9300 1)" font-size="7.30" text-anchor="end" fill="#0a0a0a" stroke="#0a0a0a" stroke-width="0.32">20</text>
<text transform="translate(283.90 264.64) scale(0.9300 1)" font-size="7.30" text-anchor="end" fill="#0a0a0a" stroke="#0a0a0a" stroke-width="0.32">0</text>
<text transform="translate(338.90 264.64) scale(0.9297 1)" font-size="7.30" text-anchor="end" fill="#0a0a0a" stroke="#0a0a0a" stroke-width="0.32">6.082</text>
<text transform="translate(393.90 264.64) scale(0.9297 1)" font-size="7.30" text-anchor="end" fill="#0a0a0a" stroke="#0a0a0a" stroke-width="0.32">6.238</text>
<text transform="translate(448.90 264.64) scale(0.9297 1)" font-size="7.30" text-anchor="end" fill="#0a0a0a" stroke="#0a0a0a" stroke-width="0.32">96.209</text>
<text transform="translate(503.90 264.64) scale(0.9297 1)" font-size="7.30" text-anchor="end" fill="#0a0a0a" stroke="#0a0a0a" stroke-width="0.32">3.746</text>
<text transform="translate(558.90 264.64) scale(0.9297 1)" font-size="7.30" text-anchor="end" fill="#0a0a0a" stroke="#0a0a0a" stroke-width="0.32">91.619</text>
<text transform="translate(613.90 264.64) scale(0.9297 1)" font-size="7.30" text-anchor="end" fill="#0a0a0a" stroke="#0a0a0a" stroke-width="0.32">14.574</text>
<text transform="translate(668.90 264.64) scale(0.9297 1)" font-size="7.30" text-anchor="end" fill="#0a0a0a" stroke="#0a0a0a" stroke-width="0.32">106.193</text>
<text transform="translate(723.90 264.64) scale(0.9300 1)" font-size="7.30" text-anchor="end" fill="#0a0a0a" stroke="#0a0a0a" stroke-width="0.32">70</text>
<text transform="translate(778.90 264.64) scale(0.9297 1)" font-size="7.30" text-anchor="end" fill="#0a0a0a" stroke="#0a0a0a" stroke-width="0.32">660.427</text>
<text transform="translate(833.90 264.64) scale(0.9296 1)" font-size="7.30" text-anchor="end" fill="#0a0a0a" stroke="#0a0a0a" stroke-width="0.32">1.633.987</text>
<text transform="translate(888.90 264.64) scale(0.9297 1)" font-size="7.30" text-anchor="end" fill="#0a0a0a" stroke="#0a0a0a" stroke-width="0.32">277.336</text>
<text transform="translate(943.90 264.64) scale(0.9454 1)" font-size="7.30" text-anchor="end" fill="#0a0a0a" stroke="#0a0a0a" stroke-width="0.32">1.911.323</text>
<text transform="translate(998.90 264.64) scale(0.9297 1)" font-size="7.30" text-anchor="end" fill="#0a0a0a" stroke="#0a0a0a" stroke-width="0.32">5.946</text>
<text transform="translate(35.50 274.20) scale(0.9283 1)" font-size="7.23" text-anchor="start" fill="#0a0a0a" stroke="#0a0a0a" stroke-width="0.32">Liguria</text>
<text transform="translate(173.90 274.20) scale(0.9300 1)" font-size="7.30" text-anchor="end" fill="#0a0a0a" stroke="#0a0a0a" stroke-width="0.32">374</text>
<text transform="translate(228.90 274.20) scale(0.9300 1)" font-size="7.30" text-anchor="end" fill="#0a0a0a" stroke="#0a0a0a" stroke-width="0.32">47</text>
<text transform="translate(283.90 274.20) scale(0.9300 1)" font-size="7.30" text-anchor="end" fill="#0a0a0a" stroke="#0a0a0a" stroke-width="0.32">1</text>
<text transform="translate(338.90 274.20) scale(0.9297 1)" font-size="7.30" text-anchor="end" fill="#0a0a0a" stroke="#0a0a0a" stroke-width="0.32">3.222</text>
<text transform="translate(393.90 274.20) scale(0.9297 1)" font-size="7.30" text-anchor="end" fill="#0a0a0a" stroke="#0a0a0a" stroke-width="0.32">3.643</text>
<text transform="translate(448.90 274.20) scale(0.9297 1)" font-size="7.30" text-anchor="end" fill="#0a0a0a" stroke="#0a0a0a" stroke-width="0.32">93.314</text>
<text transform="translate(503.90 274.20) scale(0.9297 1)" font-size="7.30" text-anchor="end" fill="#0a0a0a" stroke="#0a0a0a" stroke-width="0.32">4.252</text>
<text transform="translate(558.90 274.20) scale(0.9297 1)" font-size="7.30" text-anchor="end" fill="#0a0a0a" stroke="#0a0a0a" stroke-width="0.32">101.209</text>
<text transform="translate(613.90 274.20) scale(0.9300 1)" font-size="7.30" text-anchor="end" fill="#0a0a0a" stroke="#0a0a0a" stroke-width="0.32">0</text>
<text transform="translate(668.90 274.20) scale(0.9297 1)" font-size="7.30" text-anchor="end" fill="#0a0a0a" stroke="#0a0a0a" stroke-width="0.32">101.209</text>
<text transform="translate(723.90 274.20) scale(0.9300 1)" font-size="7.30" text-anchor="end" fill="#0a0a0a" stroke="#0a0a0a" stroke-width="0.32">128</text>
<text transform="translate(778.90 274.20) scale(0.9297 1)" font-size="7.30" text-anchor="end" fill="#0a0a0a" stroke="#0a0a0a" stroke-width="0.32">607.236</text>
<text transform="translate(833.90 274.20) scale(0.9296 1)" font-size="7.30" text-anchor="end" fill="#0a0a0a" stroke="#0a0a0a" stroke-width="0.32">1.227.781</text>
<text transform="translate(888.90 274.20) scale(0.9297 1)" font-size="7.30" text-anchor="end" fill="#0a0a0a" stroke="#0a0a0a" stroke-width="0.32">279.818</text>
<text transform="translate(943.90 274.20) scale(0.9296 1)" font-size="7.30" text-anchor="end" fill="#0a0a0a" stroke="#0a0a0a" stroke-width="0.32">1.507.599</text>
<text transform="translate(998.90 274.20) scale(0.9297 1)" font-size="7.30" text-anchor="end" fill="#0a0a0a" stroke="#0a0a0a" stroke-width="0.32">6.690</text>
<text transform="translate(35.50 283.76) scale(0.9627 1)" font-size="7.23" text-anchor="start" fill="#0a0a0a" stroke="#0a0a0a" stroke-width="0.31">Marche</text>
<text transform="translate(173.90 283.76) scale(0.9300 1)" font-size="7.30" text-anchor="end" fill="#0a0a0a" stroke="#0a0a0a" stroke-width="0.32">316</text>
<text transform="translate(228.90 283.76) scale(0.9300 1)" font-size="7.30" text-anchor="end" fill="#0a0a0a" stroke="#0a0a0a" stroke-width="0.32">53</text>
<text transform="translate(283.90 283.76) scale(0.9300 1)" font-size="7.30" text-anchor="end" fill="#0a0a0a" stroke="#0a0a0a" stroke-width="0.32">0</text>
<text transform="translate(338.90 283.76) scale(0.9297 1)" font-size="7.30" text-anchor="end" fill="#0a0a0a" stroke="#0a0a0a" stroke-width="0.32">4.869</text>
<text transform="translate(393.90 283.76) scale(0.9297 1)" font-size="7.30" text-anchor="end" fill="#0a0a0a" stroke="#0a0a0a" stroke-width="0.32">5.238</text>
<text transform="translate(448.90 283.76) scale(0.9297 1)" font-size="7.30" text-anchor="end" fill="#0a0a0a" stroke="#0a0a0a" stroke-width="0.32">91.734</text>
<text transform="translate(503.90 283.76) scale(0.9297 1)" font-size="7.30" text-anchor="end" fill="#0a0a0a" stroke="#0a0a0a" stroke-width="0.32">2.973</text>
<text transform="translate(558.90 283.76) scale(0.9297 1)" font-size="7.30" text-anchor="end" fill="#0a0a0a" stroke="#0a0a0a" stroke-width="0.32">99.945</text>
<text transform="translate(613.90 283.76) scale(0.9300 1)" font-size="7.30" text-anchor="end" fill="#0a0a0a" stroke="#0a0a0a" stroke-width="0.32">0</text>
<text transform="translate(668.90 283.76) scale(0.9297 1)" font-size="7.30" text-anchor="end" fill="#0a0a0a" stroke="#0a0a0a" stroke-width="0.32">99.945</text>
<text transform="translate(723.90 283.76) scale(0.9300 1)" font-size="7.30" text-anchor="end" fill="#0a0a0a" stroke="#0a0a0a" stroke-width="0.32">151</text>
<text transform="translate(778.90 283.76) scale(0.9297 1)" font-size="7.30" text-anchor="end" fill="#0a0a0a" stroke="#0a0a0a" stroke-width="0.32">697.461</text>
<text transform="translate(833.90 283.76) scale(0.9617 1)" font-size="7.30" text-anchor="end" fill="#0a0a0a" stroke="#0a0a0a" stroke-width="0.31">1.046.111</text>
<text transform="translate(888.90 283.76) scale(0.9297 1)" font-size="7.30" text-anchor="end" fill="#0a0a0a" stroke="#0a0a0a" stroke-width="0.32">123.675</text>
<text transform="translate(943.90 283.76) scale(0.9296 1)" font-size="7.30" text-anchor="end" fill="#0a0a0a" stroke="#0a0a0a" stroke-width="0.32">1.169.786</text>
<text transform="translate(998.90 283.76) scale(0.9297 1)" font-size="7.30" text-anchor="end" fill="#0a0a0a" stroke="#0a0a0a" stroke-width="0.32">4.021</text>
<text transform="translate(35.50 293.32) scale(0.9199 1)" font-size="7.23" text-anchor="start" fill="#0a0a0a" stroke="#0a0a0a" stroke-width="0.33">Abruzzo</text>
<text transform="translate(173.90 293.32) scale(0.9300 1)" font-size="7.30" text-anchor="end" fill="#0a0a0a" stroke="#0a0a0a" stroke-width="0.32">254</text>
<text transform="translate(228.90 293.32) scale(0.9300 1)" font-size="7.30" text-anchor="end" fill="#0a0a0a" stroke="#0a0a0a" stroke-width="0.32">25</text>
<text transform="translate(283.90 293.32) scale(0.9300 1)" font-size="7.30" text-anchor="end" fill="#0a0a0a" stroke="#0a0a0a" stroke-width="0.32">0</text>
<text transform="translate(338.90 293.32) scale(0.9297 1)" font-size="7.30" text-anchor="end" fill="#0a0a0a" stroke="#0a0a0a" stroke-width="0.32">7.392</text>
<text transform="translate(393.90 293.32) scale(0.9297 1)" font-size="7.30" text-anchor="end" fill="#0a0a0a" stroke="#0a0a0a" stroke-width="0.32">7.671</text>
<text transform="translate(448.90 293.32) scale(0.9297 1)" font-size="7.30" text-anchor="end" fill="#0a0a0a" stroke="#0a0a0a" stroke-width="0.32">62.531</text>
<text transform="translate(503.90 293.32) scale(0.9297 1)" font-size="7.30" text-anchor="end" fill="#0a0a0a" stroke="#0a0a0a" stroke-width="0.32">2.447</text>
<text transform="translate(558.90 293.32) scale(0.9297 1)" font-size="7.30" text-anchor="end" fill="#0a0a0a" stroke="#0a0a0a" stroke-width="0.32">72.649</text>
<text transform="translate(613.90 293.32) scale(0.9300 1)" font-size="7.30" text-anchor="end" fill="#0a0a0a" stroke="#0a0a0a" stroke-width="0.32">0</text>
<text transform="translate(668.90 293.32) scale(0.9297 1)" font-size="7.30" text-anchor="end" fill="#0a0a0a" stroke="#0a0a0a" stroke-width="0.32">72.649</text>
<text transform="translate(723.90 293.32) scale(0.9300 1)" font-size="7.30" text-anchor="end" fill="#0a0a0a" stroke="#0a0a0a" stroke-width="0.32">79</text>
<text transform="translate(778.90 293.32) scale(0.9297 1)" font-size="7.30" text-anchor="end" fill="#0a0a0a" stroke="#0a0a0a" stroke-width="0.32">637.199</text>
<text transform="translate(833.90 293.32) scale(0.9296 1)" font-size="7.30" text-anchor="end" fill="#0a0a0a" stroke="#0a0a0a" stroke-width="0.32">1.052.783</text>
<text transform="translate(888.90 293.32) scale(0.9297 1)" font-size="7.30" text-anchor="end" fill="#0a0a0a" stroke="#0a0a0a" stroke-width="0.32">432.474</text>
<text transform="translate(943.90 293.32) scale(0.9296 1)" font-size="7.30" text-anchor="end" fill="#0a0a0a" stroke="#0a0a0a" stroke-width="0.32">1.485.257</text>
<text transform="translate(998.90 293.32) scale(0.9297 1)" font-size="7.30" text-anchor="end" fill="#0a0a0a" stroke="#0a0a0a" stroke-width="0.32">6.297</text>
<text transform="translate(35.50 302.88) scale(0.8976 1)" font-size="7.23" text-anchor="start" fill="#0a0a0a" stroke="#0a0a0a" stroke-width="0.33">P.A. Bolzano</text>
<text transform="translate(173.90 302.88) scale(0.9300 1)" font-size="7.30" text-anchor="end" fill="#0a0a0a" stroke="#0a0a0a" stroke-width="0.32">26</text>
<text transform="translate(228.90 302.88) scale(0.9300 1)" font-size="7.30" text-anchor="end" fill="#0a0a0a" stroke="#0a0a0a" stroke-width="0.32">6</text>
<text transform="translate(283.90 302.88) scale(0.9300 1)" font-size="7.30" text-anchor="end" fill="#0a0a0a" stroke="#0a0a0a" stroke-width="0.32">0</text>
<text transform="translate(338.90 302.88) scale(0.9300 1)" font-size="7.30" text-anchor="end" fill="#0a0a0a" stroke="#0a0a0a" stroke-width="0.32">998</text>
<text transform="translate(393.90 302.88) scale(0.9297 1)" font-size="7.30" text-anchor="end" fill="#0a0a0a" stroke="#0a0a0a" stroke-width="0.32">1.030</text>
<text transform="translate(448.90 302.88) scale(0.9297 1)" font-size="7.30" text-anchor="end" fill="#0a0a0a" stroke="#0a0a0a" stroke-width="0.32">69.662</text>
<text transform="translate(503.90 302.88) scale(0.9297 1)" font-size="7.30" text-anchor="end" fill="#0a0a0a" stroke="#0a0a0a" stroke-width="0.32">1.168</text>
<text transform="translate(558.90 302.88) scale(0.9297 1)" font-size="7.30" text-anchor="end" fill="#0a0a0a" stroke="#0a0a0a" stroke-width="0.32">58.721</text>
<text transform="translate(613.90 302.88) scale(0.9297 1)" font-size="7.30" text-anchor="end" fill="#0a0a0a" stroke="#0a0a0a" stroke-width="0.32">13.139</text>
<text transform="translate(668.90 302.88) scale(0.9297 1)" font-size="7.30" text-anchor="end" fill="#0a0a0a" stroke="#0a0a0a" stroke-width="0.32">71.860</text>
<text transform="translate(723.90 302.88) scale(0.9300 1)" font-size="7.30" text-anchor="end" fill="#0a0a0a" stroke="#0a0a0a" stroke-width="0.32">53</text>
<text transform="translate(778.90 302.88) scale(0.9297 1)" font-size="7.30" text-anchor="end" fill="#0a0a0a" stroke="#0a0a0a" stroke-width="0.32">404.159</text>
<text transform="translate(833.90 302.88) scale(0.9297 1)" font-size="7.30" text-anchor="end" fill="#0a0a0a" stroke="#0a0a0a" stroke-width="0.32">563.912</text>
<text transform="translate(888.90 302.88) scale(0.9297 1)" font-size="7.30" text-anchor="end" fill="#0a0a0a" stroke="#0a0a0a" stroke-width="0.32">880.016</text>
<text transform="translate(943.90 302.88) scale(0.9296 1)" font-size="7.30" text-anchor="end" fill="#0a0a0a" stroke="#0a0a0a" stroke-width="0.32">1.443.928</text>
<text transform="translate(998.90 302.88) scale(0.9297 1)" font-size="7.30" text-anchor="end" fill="#0a0a0a" stroke="#0a0a0a" stroke-width="0.32">9.035</text>
<text transform="translate(35.50 312.44) scale(0.9144 1)" font-size="7.23" text-anchor="start" fill="#0a0a0a" stroke="#0a0a0a" stroke-width="0.33">Calabria</text>
<text transform="translate(173.90 312.44) scale(0.9300 1)" font-size="7.30" text-anchor="end" fill="#0a0a0a" stroke="#0a0a0a" stroke-width="0.32">414</text>
<text transform="translate(228.90 312.44) scale(0.9300 1)" font-size="7.30" text-anchor="end" fill="#0a0a0a" stroke="#0a0a0a" stroke-width="0.32">29</text>
<text transform="translate(283.90 312.44) scale(0.9300 1)" font-size="7.30" text-anchor="end" fill="#0a0a0a" stroke="#0a0a0a" stroke-width="0.32">0</text>
<text transform="translate(338.90 312.44) scale(0.9297 1)" font-size="7.30" text-anchor="end" fill="#0a0a0a" stroke="#0a0a0a" stroke-width="0.32">12.820</text>
<text transform="translate(393.90 312.44) scale(0.9297 1)" font-size="7.30" text-anchor="end" fill="#0a0a0a" stroke="#0a0a0a" stroke-width="0.32">13.263</text>
<text transform="translate(448.90 312.44) scale(0.9297 1)" font-size="7.30" text-anchor="end" fill="#0a0a0a" stroke="#0a0a0a" stroke-width="0.32">49.000</text>
<text transform="translate(503.90 312.44) scale(0.9297 1)" font-size="7.30" text-anchor="end" fill="#0a0a0a" stroke="#0a0a0a" stroke-width="0.32">1.092</text>
<text transform="translate(558.90 312.44) scale(0.9297 1)" font-size="7.30" text-anchor="end" fill="#0a0a0a" stroke="#0a0a0a" stroke-width="0.32">63.342</text>
<text transform="translate(613.90 312.44) scale(0.9300 1)" font-size="7.30" text-anchor="end" fill="#0a0a0a" stroke="#0a0a0a" stroke-width="0.32">13</text>
<text transform="translate(668.90 312.44) scale(0.9297 1)" font-size="7.30" text-anchor="end" fill="#0a0a0a" stroke="#0a0a0a" stroke-width="0.32">63.355</text>
<text transform="translate(723.90 312.44) scale(0.9300 1)" font-size="7.30" text-anchor="end" fill="#0a0a0a" stroke="#0a0a0a" stroke-width="0.32">237</text>
<text transform="translate(778.90 312.44) scale(0.9297 1)" font-size="7.30" text-anchor="end" fill="#0a0a0a" stroke="#0a0a0a" stroke-width="0.32">747.367</text>
<text transform="translate(833.90 312.44) scale(0.9297 1)" font-size="7.30" text-anchor="end" fill="#0a0a0a" stroke="#0a0a0a" stroke-width="0.32">775.062</text>
<text transform="translate(888.90 312.44) scale(0.9297 1)" font-size="7.30" text-anchor="end" fill="#0a0a0a" stroke="#0a0a0a" stroke-width="0.32">35.077</text>
<text transform="translate(943.90 312.44) scale(0.9297 1)" font-size="7.30" text-anchor="end" fill="#0a0a0a" stroke="#0a0a0a" stroke-width="0.32">810.139</text>
<text transform="translate(998.90 312.44) scale(0.9297 1)" font-size="7.30" text-anchor="end" fill="#0a0a0a" stroke="#0a0a0a" stroke-width="0.32">3.241</text>
<text transform="translate(35.50 322.00) scale(0.8965 1)" font-size="7.23" text-anchor="start" fill="#0a0a0a" stroke="#0a0a0a" stroke-width="0.33">Sardegna</text>
<text transform="translate(173.90 322.00) scale(0.9300 1)" font-size="7.30" text-anchor="end" fill="#0a0a0a" stroke="#0a0a0a" stroke-width="0.32">274</text>
<text transform="translate(228.90 322.00) scale(0.9300 1)" font-size="7.30" text-anchor="end" fill="#0a0a0a" stroke="#0a0a0a" stroke-width="0.32">40</text>
<text transform="translate(283.90 322.00) scale(0.9300 1)" font-size="7.30" text-anchor="end" fill="#0a0a0a" stroke="#0a0a0a" stroke-width="0.32">3</text>
<text transform="translate(338.90 322.00) scale(0.9297 1)" font-size="7.30" text-anchor="end" fill="#0a0a0a" stroke="#0a0a0a" stroke-width="0.32">14.916</text>
<text transform="translate(393.90 322.00) scale(0.9297 1)" font-size="7.30" text-anchor="end" fill="#0a0a0a" stroke="#0a0a0a" stroke-width="0.32">15.230</text>
<text transform="translate(448.90 322.00) scale(0.9528 1)" font-size="7.30" text-anchor="end" fill="#0a0a0a" stroke="#0a0a0a" stroke-width="0.31">39.113</text>
<text transform="translate(503.90 322.00) scale(0.9297 1)" font-size="7.30" text-anchor="end" fill="#0a0a0a" stroke="#0a0a0a" stroke-width="0.32">1.422</text>
<text transform="translate(558.90 322.00) scale(0.9297 1)" font-size="7.30" text-anchor="end" fill="#0a0a0a" stroke="#0a0a0a" stroke-width="0.32">55.748</text>
<text transform="translate(613.90 322.00) scale(0.9300 1)" font-size="7.30" text-anchor="end" fill="#0a0a0a" stroke="#0a0a0a" stroke-width="0.32">17</text>
<text transform="translate(668.90 322.00) scale(0.9297 1)" font-size="7.30" text-anchor="end" fill="#0a0a0a" stroke="#0a0a0a" stroke-width="0.32">55.765</text>
<text transform="translate(723.90 322.00) scale(0.9300 1)" font-size="7.30" text-anchor="end" fill="#0a0a0a" stroke="#0a0a0a" stroke-width="0.32">83</text>
<text transform="translate(778.90 322.00) scale(0.9297 1)" font-size="7.30" text-anchor="end" fill="#0a0a0a" stroke="#0a0a0a" stroke-width="0.32">721.898</text>
<text transform="translate(833.90 322.00) scale(0.9297 1)" font-size="7.30" text-anchor="end" fill="#0a0a0a" stroke="#0a0a0a" stroke-width="0.32">861.882</text>
<text transform="translate(888.90 322.00) scale(0.9297 1)" font-size="7.30" text-anchor="end" fill="#0a0a0a" stroke="#0a0a0a" stroke-width="0.32">362.899</text>
<text transform="translate(943.90 322.00) scale(0.9296 1)" font-size="7.30" text-anchor="end" fill="#0a0a0a" stroke="#0a0a0a" stroke-width="0.32">1.224.781</text>
<text transform="translate(998.90 322.00) scale(0.9297 1)" font-size="7.30" text-anchor="end" fill="#0a0a0a" stroke="#0a0a0a" stroke-width="0.32">5.776</text>
<text transform="translate(35.50 331.56) scale(0.9670 1)" font-size="7.23" text-anchor="start" fill="#0a0a0a" stroke="#0a0a0a" stroke-width="0.31">Umbria</text>
<text transform="translate(173.90 331.56) scale(0.9300 1)" font-size="7.30" text-anchor="end" fill="#0a0a0a" stroke="#0a0a0a" stroke-width="0.32">140</text>
<text transform="translate(228.90 331.56) scale(0.9300 1)" font-size="7.30" text-anchor="end" fill="#0a0a0a" stroke="#0a0a0a" stroke-width="0.32">20</text>
<text transform="translate(283.90 331.56) scale(0.9300 1)" font-size="7.30" text-anchor="end" fill="#0a0a0a" stroke="#0a0a0a" stroke-width="0.32">1</text>
<text transform="translate(338.90 331.56) scale(0.9297 1)" font-size="7.30" text-anchor="end" fill="#0a0a0a" stroke="#0a0a0a" stroke-width="0.32">2.494</text>
<text transform="translate(393.90 331.56) scale(0.9297 1)" font-size="7.30" text-anchor="end" fill="#0a0a0a" stroke="#0a0a0a" stroke-width="0.32">2.654</text>
<text transform="translate(448.90 331.56) scale(0.9297 1)" font-size="7.30" text-anchor="end" fill="#0a0a0a" stroke="#0a0a0a" stroke-width="0.32">51.378</text>
<text transform="translate(503.90 331.56) scale(0.9297 1)" font-size="7.30" text-anchor="end" fill="#0a0a0a" stroke="#0a0a0a" stroke-width="0.32">1.370</text>
<text transform="translate(558.90 331.56) scale(0.9297 1)" font-size="7.30" text-anchor="end" fill="#0a0a0a" stroke="#0a0a0a" stroke-width="0.32">55.402</text>
<text transform="translate(613.90 331.56) scale(0.9300 1)" font-size="7.30" text-anchor="end" fill="#0a0a0a" stroke="#0a0a0a" stroke-width="0.32">0</text>
<text transform="translate(668.90 331.56) scale(0.9297 1)" font-size="7.30" text-anchor="end" fill="#0a0a0a" stroke="#0a0a0a" stroke-width="0.32">55.402</text>
<text transform="translate(723.90 331.56) scale(0.9733 1)" font-size="7.30" text-anchor="end" fill="#0a0a0a" stroke="#0a0a0a" stroke-width="0.31">114</text>
<text transform="translate(778.90 331.56) scale(0.9297 1)" font-size="7.30" text-anchor="end" fill="#0a0a0a" stroke="#0a0a0a" stroke-width="0.32">365.383</text>
<text transform="translate(833.90 331.56) scale(0.9297 1)" font-size="7.30" text-anchor="end" fill="#0a0a0a" stroke="#0a0a0a" stroke-width="0.32">883.755</text>
<text transform="translate(888.90 331.56) scale(0.9297 1)" font-size="7.30" text-anchor="end" fill="#0a0a0a" stroke="#0a0a0a" stroke-width="0.32">349.042</text>
<text transform="translate(943.90 331.56) scale(0.9296 1)" font-size="7.30" text-anchor="end" fill="#0a0a0a" stroke="#0a0a0a" stroke-width="0.32">1.232.797</text>
<text transform="translate(998.90 331.56) scale(0.9297 1)" font-size="7.30" text-anchor="end" fill="#0a0a0a" stroke="#0a0a0a" stroke-width="0.32">7.704</text>
<text transform="translate(35.50 341.12) scale(0.9175 1)" font-size="7.23" text-anchor="start" fill="#0a0a0a" stroke="#0a0a0a" stroke-width="0.33">P.A. Trento</text>
<text transform="translate(173.90 341.12) scale(0.9300 1)" font-size="7.30" text-anchor="end" fill="#0a0a0a" stroke="#0a0a0a" stroke-width="0.32">54</text>
<text transform="translate(228.90 341.12) scale(0.9300 1)" font-size="7.30" text-anchor="end" fill="#0a0a0a" stroke="#0a0a0a" stroke-width="0.32">19</text>
<text transform="translate(283.90 341.12) scale(0.9300 1)" font-size="7.30" text-anchor="end" fill="#0a0a0a" stroke="#0a0a0a" stroke-width="0.32">1</text>
<text transform="translate(338.90 341.12) scale(0.9300 1)" font-size="7.30" text-anchor="end" fill="#0a0a0a" stroke="#0a0a0a" stroke-width="0.32">761</text>
<text transform="translate(393.90 341.12) scale(0.9300 1)" font-size="7.30" text-anchor="end" fill="#0a0a0a" stroke="#0a0a0a" stroke-width="0.32">834</text>
<text transform="translate(448.90 341.12) scale(0.9297 1)" font-size="7.30" text-anchor="end" fill="#0a0a0a" stroke="#0a0a0a" stroke-width="0.32">42.430</text>
<text transform="translate(503.90 341.12) scale(0.9297 1)" font-size="7.30" text-anchor="end" fill="#0a0a0a" stroke="#0a0a0a" stroke-width="0.32">1.349</text>
<text transform="translate(558.90 341.12) scale(0.9297 1)" font-size="7.30" text-anchor="end" fill="#0a0a0a" stroke="#0a0a0a" stroke-width="0.32">32.256</text>
<text transform="translate(613.90 341.12) scale(0.9297 1)" font-size="7.30" text-anchor="end" fill="#0a0a0a" stroke="#0a0a0a" stroke-width="0.32">12.357</text>
<text transform="translate(668.90 341.12) scale(0.9297 1)" font-size="7.30" text-anchor="end" fill="#0a0a0a" stroke="#0a0a0a" stroke-width="0.32">44.613</text>
<text transform="translate(723.90 341.12) scale(0.9300 1)" font-size="7.30" text-anchor="end" fill="#0a0a0a" stroke="#0a0a0a" stroke-width="0.32">44</text>
<text transform="translate(778.90 341.12) scale(0.9297 1)" font-size="7.30" text-anchor="end" fill="#0a0a0a" stroke="#0a0a0a" stroke-width="0.32">199.768</text>
<text transform="translate(833.90 341.12) scale(0.9297 1)" font-size="7.30" text-anchor="end" fill="#0a0a0a" stroke="#0a0a0a" stroke-width="0.32">647.328</text>
<text transform="translate(888.90 341.12) scale(0.9297 1)" font-size="7.30" text-anchor="end" fill="#0a0a0a" stroke="#0a0a0a" stroke-width="0.32">138.342</text>
<text transform="translate(943.90 341.12) scale(0.9297 1)" font-size="7.30" text-anchor="end" fill="#0a0a0a" stroke="#0a0a0a" stroke-width="0.32">785.670</text>
<text transform="translate(998.90 341.12) scale(0.9297 1)" font-size="7.30" text-anchor="end" fill="#0a0a0a" stroke="#0a0a0a" stroke-width="0.32">1.673</text>
<text transform="translate(35.50 350.68) scale(0.9126 1)" font-size="7.23" text-anchor="start" fill="#0a0a0a" stroke="#0a0a0a" stroke-width="0.33">Basilicata</text>
<text transform="translate(173.90 350.68) scale(0.9300 1)" font-size="7.30" text-anchor="end" fill="#0a0a0a" stroke="#0a0a0a" stroke-width="0.32">126</text>
<text transform="translate(228.90 350.68) scale(0.9300 1)" font-size="7.30" text-anchor="end" fill="#0a0a0a" stroke="#0a0a0a" stroke-width="0.32">10</text>
<text transform="translate(283.90 350.68) scale(0.9300 1)" font-size="7.30" text-anchor="end" fill="#0a0a0a" stroke="#0a0a0a" stroke-width="0.32">1</text>
<text transform="translate(338.90 350.68) scale(0.9297 1)" font-size="7.30" text-anchor="end" fill="#0a0a0a" stroke="#0a0a0a" stroke-width="0.32">5.580</text>
<text transform="translate(393.90 350.68) scale(0.9297 1)" font-size="7.30" text-anchor="end" fill="#0a0a0a" stroke="#0a0a0a" stroke-width="0.32">5.716</text>
<text transform="translate(448.90 350.68) scale(0.9297 1)" font-size="7.30" text-anchor="end" fill="#0a0a0a" stroke="#0a0a0a" stroke-width="0.32">18.818</text>
<text transform="translate(503.90 350.68) scale(0.9300 1)" font-size="7.30" text-anchor="end" fill="#0a0a0a" stroke="#0a0a0a" stroke-width="0.32">555</text>
<text transform="translate(558.90 350.68) scale(0.9297 1)" font-size="7.30" text-anchor="end" fill="#0a0a0a" stroke="#0a0a0a" stroke-width="0.32">25.089</text>
<text transform="translate(613.90 350.68) scale(0.9300 1)" font-size="7.30" text-anchor="end" fill="#0a0a0a" stroke="#0a0a0a" stroke-width="0.32">0</text>
<text transform="translate(668.90 350.68) scale(0.9297 1)" font-size="7.30" text-anchor="end" fill="#0a0a0a" stroke="#0a0a0a" stroke-width="0.32">25.089</text>
<text transform="translate(723.90 350.68) scale(0.9300 1)" font-size="7.30" text-anchor="end" fill="#0a0a0a" stroke="#0a0a0a" stroke-width="0.32">80</text>
<text transform="translate(778.90 350.68) scale(0.9297 1)" font-size="7.30" text-anchor="end" fill="#0a0a0a" stroke="#0a0a0a" stroke-width="0.32">194.478</text>
<text transform="translate(833.90 350.68) scale(0.9297 1)" font-size="7.30" text-anchor="end" fill="#0a0a0a" stroke="#0a0a0a" stroke-width="0.32">336.914</text>
<text transform="translate(888.90 350.68) scale(0.9297 1)" font-size="7.30" text-anchor="end" fill="#0a0a0a" stroke="#0a0a0a" stroke-width="0.32">14.889</text>
<text transform="translate(943.90 350.68) scale(0.9297 1)" font-size="7.30" text-anchor="end" fill="#0a0a0a" stroke="#0a0a0a" stroke-width="0.32">351.803</text>
<text transform="translate(998.90 350.68) scale(0.9297 1)" font-size="7.30" text-anchor="end" fill="#0a0a0a" stroke="#0a0a0a" stroke-width="0.32">1.518</text>
<text transform="translate(35.50 360.24) scale(0.9740 1)" font-size="7.23" text-anchor="start" fill="#0a0a0a" stroke="#0a0a0a" stroke-width="0.31">Molise</text>
<text transform="translate(173.90 360.24) scale(0.9300 1)" font-size="7.30" text-anchor="end" fill="#0a0a0a" stroke="#0a0a0a" stroke-width="0.32">26</text>
<text transform="translate(228.90 360.24) scale(0.9300 1)" font-size="7.30" text-anchor="end" fill="#0a0a0a" stroke="#0a0a0a" stroke-width="0.32">5</text>
<text transform="translate(283.90 360.24) scale(0.9300 1)" font-size="7.30" text-anchor="end" fill="#0a0a0a" stroke="#0a0a0a" stroke-width="0.32">0</text>
<text transform="translate(338.90 360.24) scale(0.9300 1)" font-size="7.30" text-anchor="end" fill="#0a0a0a" stroke="#0a0a0a" stroke-width="0.32">392</text>
<text transform="translate(393.90 360.24) scale(0.9300 1)" font-size="7.30" text-anchor="end" fill="#0a0a0a" stroke="#0a0a0a" stroke-width="0.32">423</text>
<text transform="translate(448.90 360.24) scale(0.9297 1)" font-size="7.30" text-anchor="end" fill="#0a0a0a" stroke="#0a0a0a" stroke-width="0.32">12.533</text>
<text transform="translate(503.90 360.24) scale(0.9300 1)" font-size="7.30" text-anchor="end" fill="#0a0a0a" stroke="#0a0a0a" stroke-width="0.32">483</text>
<text transform="translate(558.90 360.24) scale(0.9297 1)" font-size="7.30" text-anchor="end" fill="#0a0a0a" stroke="#0a0a0a" stroke-width="0.32">13.439</text>
<text transform="translate(613.90 360.24) scale(0.9300 1)" font-size="7.30" text-anchor="end" fill="#0a0a0a" stroke="#0a0a0a" stroke-width="0.32">0</text>
<text transform="translate(668.90 360.24) scale(0.9297 1)" font-size="7.30" text-anchor="end" fill="#0a0a0a" stroke="#0a0a0a" stroke-width="0.32">13.439</text>
<text transform="translate(723.90 360.24) scale(0.9300 1)" font-size="7.30" text-anchor="end" fill="#0a0a0a" stroke="#0a0a0a" stroke-width="0.32">5</text>
<text transform="translate(778.90 360.24) scale(0.9297 1)" font-size="7.30" text-anchor="end" fill="#0a0a0a" stroke="#0a0a0a" stroke-width="0.32">188.058</text>
<text transform="translate(833.90 360.24) scale(0.9297 1)" font-size="7.30" text-anchor="end" fill="#0a0a0a" stroke="#0a0a0a" stroke-width="0.32">207.663</text>
<text transform="translate(888.90 360.24) scale(0.9297 1)" font-size="7.30" text-anchor="end" fill="#0a0a0a" stroke="#0a0a0a" stroke-width="0.32">12.745</text>
<text transform="translate(943.90 360.24) scale(0.9297 1)" font-size="7.30" text-anchor="end" fill="#0a0a0a" stroke="#0a0a0a" stroke-width="0.32">220.408</text>
<text transform="translate(998.90 360.24) scale(0.9300 1)" font-size="7.30" text-anchor="end" fill="#0a0a0a" stroke="#0a0a0a" stroke-width="0.32">402</text>
<text transform="translate(35.50 369.80) scale(0.9366 1)" font-size="7.23" text-anchor="start" fill="#0a0a0a" stroke="#0a0a0a" stroke-width="0.32">Valle d&#x27;Aosta</text>
<text transform="translate(173.90 369.80) scale(0.9300 1)" font-size="7.30" text-anchor="end" fill="#0a0a0a" stroke="#0a0a0a" stroke-width="0.32">22</text>
<text transform="translate(228.90 369.80) scale(0.9300 1)" font-size="7.30" text-anchor="end" fill="#0a0a0a" stroke="#0a0a0a" stroke-width="0.32">9</text>
<text transform="translate(283.90 369.80) scale(0.9300 1)" font-size="7.30" text-anchor="end" fill="#0a0a0a" stroke="#0a0a0a" stroke-width="0.32">2</text>
<text transform="translate(338.90 369.80) scale(0.9300 1)" font-size="7.30" text-anchor="end" fill="#0a0a0a" stroke="#0a0a0a" stroke-width="0.32">503</text>
<text transform="translate(393.90 369.80) scale(0.9300 1)" font-size="7.30" text-anchor="end" fill="#0a0a0a" stroke="#0a0a0a" stroke-width="0.32">534</text>
<text transform="translate(448.90 369.80) scale(0.9297 1)" font-size="7.30" text-anchor="end" fill="#0a0a0a" stroke="#0a0a0a" stroke-width="0.32">10.261</text>
<text transform="translate(503.90 369.80) scale(0.9300 1)" font-size="7.30" text-anchor="end" fill="#0a0a0a" stroke="#0a0a0a" stroke-width="0.32">464</text>
<text transform="translate(558.90 369.80) scale(0.9297 1)" font-size="7.30" text-anchor="end" fill="#0a0a0a" stroke="#0a0a0a" stroke-width="0.32">10.670</text>
<text transform="translate(613.90 369.80) scale(0.9300 1)" font-size="7.30" text-anchor="end" fill="#0a0a0a" stroke="#0a0a0a" stroke-width="0.32">589</text>
<text transform="translate(668.90 369.80) scale(0.9528 1)" font-size="7.30" text-anchor="end" fill="#0a0a0a" stroke="#0a0a0a" stroke-width="0.31">11.259</text>
<text transform="translate(723.90 369.80) scale(0.9300 1)" font-size="7.30" text-anchor="end" fill="#0a0a0a" stroke="#0a0a0a" stroke-width="0.32">23</text>
<text transform="translate(778.90 369.80) scale(0.9297 1)" font-size="7.30" text-anchor="end" fill="#0a0a0a" stroke="#0a0a0a" stroke-width="0.32">59.757</text>
<text transform="translate(833.90 369.80) scale(0.9297 1)" font-size="7.30" text-anchor="end" fill="#0a0a0a" stroke="#0a0a0a" stroke-width="0.32">92.982</text>
<text transform="translate(888.90 369.80) scale(0.9297 1)" font-size="7.30" text-anchor="end" fill="#0a0a0a" stroke="#0a0a0a" stroke-width="0.32">27.158</text>
<text transform="translate(943.90 369.80) scale(0.9297 1)" font-size="7.30" text-anchor="end" fill="#0a0a0a" stroke="#0a0a0a" stroke-width="0.32">120.140</text>
<text transform="translate(998.90 369.80) scale(0.9300 1)" font-size="7.30" text-anchor="end" fill="#0a0a0a" stroke="#0a0a0a" stroke-width="0.32">753</text>
<text transform="translate(76.75 381.10) scale(0.8455 1)" font-size="7.12" text-anchor="middle" font-weight="bold" fill="#0a0a0a" stroke="#0a0a0a" stroke-width="0.35">TOTALE</text>
<text transform="translate(173.90 381.10) scale(0.9902 1)" font-size="7.12" text-anchor="end" font-weight="bold" fill="#0a0a0a" stroke="#0a0a0a" stroke-width="0.32">14.937</text>
<text transform="translate(228.90 381.10) scale(0.9913 1)" font-size="7.12" text-anchor="end" font-weight="bold" fill="#0a0a0a" stroke="#0a0a0a" stroke-width="0.32">2.056</text>
<text transform="translate(283.90 381.10) scale(0.9853 1)" font-size="7.12" text-anchor="end" font-weight="bold" fill="#0a0a0a" stroke="#0a0a0a" stroke-width="0.32">100</text>
<text transform="translate(338.90 381.10) scale(0.9894 1)" font-size="7.12" text-anchor="end" font-weight="bold" fill="#0a0a0a" stroke="#0a0a0a" stroke-width="0.32">346.866</text>
<text transform="translate(393.90 381.10) scale(0.9894 1)" font-size="7.12" text-anchor="end" font-weight="bold" fill="#0a0a0a" stroke="#0a0a0a" stroke-width="0.32">363.859</text>
<text transform="translate(448.90 381.10) scale(0.9920 1)" font-size="7.12" text-anchor="end" font-weight="bold" fill="#08330f" stroke="#08330f" stroke-width="0.32">3.636.089</text>
<text transform="translate(503.90 381.10) scale(0.9894 1)" font-size="7.12" text-anchor="end" font-weight="bold" fill="#6e0606" stroke="#6e0606" stroke-width="0.32">123.282</text>
<text transform="translate(558.90 381.10) scale(0.9920 1)" font-size="7.12" text-anchor="end" font-weight="bold" fill="#0a0a0a" stroke="#0a0a0a" stroke-width="0.32">3.979.095</text>
<text transform="translate(613.90 381.10) scale(0.9894 1)" font-size="7.12" text-anchor="end" font-weight="bold" fill="#0a0a0a" stroke="#0a0a0a" stroke-width="0.32">144.135</text>
<text transform="translate(668.90 381.10) scale(0.9920 1)" font-size="7.12" text-anchor="end" font-weight="bold" fill="#0a0a0a" stroke="#0a0a0a" stroke-width="0.32">4.123.230</text>
<text transform="translate(723.90 381.10) scale(0.9913 1)" font-size="7.12" text-anchor="end" font-weight="bold" fill="#0a0a0a" stroke="#0a0a0a" stroke-width="0.32">6.946</text>
<text transform="translate(778.90 381.10) scale(0.9913 1)" font-size="7.12" text-anchor="end" font-weight="bold" fill="#0a0a0a" stroke="#0a0a0a" stroke-width="0.32">26.673.109</text>
<text transform="translate(833.90 381.10) scale(0.9913 1)" font-size="7.12" text-anchor="end" font-weight="bold" fill="#0a0a0a" stroke="#0a0a0a" stroke-width="0.32">46.766.636</text>
<text transform="translate(888.90 381.10) scale(0.9913 1)" font-size="7.12" text-anchor="end" font-weight="bold" fill="#0a0a0a" stroke="#0a0a0a" stroke-width="0.32">14.746.816</text>
<text transform="translate(943.90 381.10) scale(0.9913 1)" font-size="7.12" text-anchor="end" font-weight="bold" fill="#0a0a0a" stroke="#0a0a0a" stroke-width="0.32">61.513.452</text>
<text transform="translate(998.90 381.10) scale(0.9894 1)" font-size="7.12" text-anchor="end" font-weight="bold" fill="#0a0a0a" stroke="#0a0a0a" stroke-width="0.32">286.428</text>
<text transform="translate(35.00 406.30) scale(0.9773 1)" font-size="6.66" text-anchor="start" font-weight="bold" fill="#0a0a0a" stroke="#0a0a0a" stroke-width="0.20">Note:</text>
<text transform="translate(35.00 420.30) scale(0.9797 1)" font-size="5.39" text-anchor="start" fill="#0a0a0a" stroke="#0a0a0a" stroke-width="0.04">La regione Abruzzo comunica che del totale dei decessi comunicati in data odierna, 2 casi sono avvenuti nei giorni scorsi.</text>
<text transform="translate(35.00 426.20) scale(0.9865 1)" font-size="5.39" text-anchor="start" fill="#0a0a0a" stroke="#0a0a0a" stroke-width="0.04">La regione Emilia Romagna comunica che dal totale dei positivi sono stati eliminati 3 casi dichiarati nei giorni precedenti: 2 casi in quanto positivi al test antigenico ma non confermati da tampone molecolare e 1 caso in quanto giudicato non COVID-19.</text>
<text transform="translate(35.00 432.10) scale(0.9813 1)" font-size="5.39" text-anchor="start" fill="#0a0a0a" stroke="#0a0a0a" stroke-width="0.04">La P.A. di Bolzano comunica che tra i 53 nuovi casi confermati da test molecolare, 26 derivano da test antigenici successivamente confermati da PCR.</text>
</svg>
</body></html>
